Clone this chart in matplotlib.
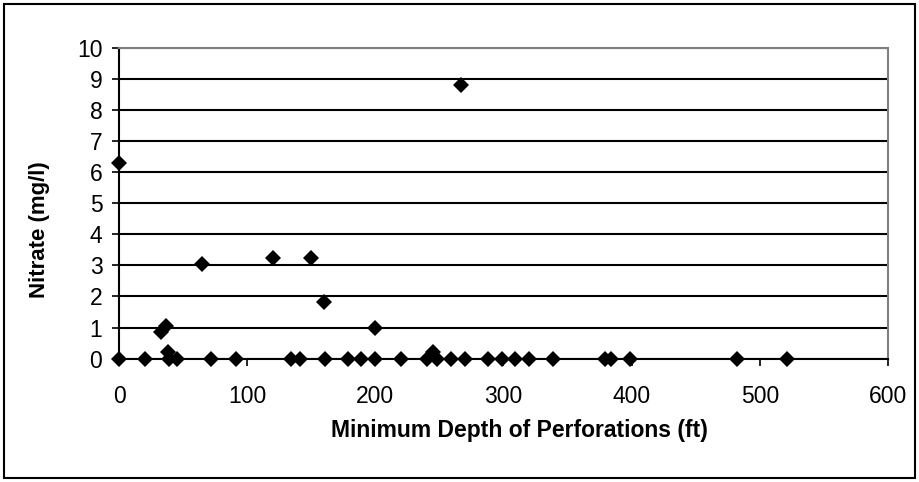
import matplotlib
matplotlib.use("Agg")
import matplotlib.pyplot as plt
from matplotlib.patches import Rectangle

plt.rcParams['font.family'] = ['Liberation Sans', 'DejaVu Sans']

# Wells with detectable nitrate
depth_detect = [0, 33, 37, 38, 65, 120, 150, 160, 200, 245, 267]
nitrate_detect = [6.3, 0.85, 1.05, 0.2, 3.05, 3.25, 3.25, 1.82, 1.0, 0.2, 8.8]

# Wells at the reporting floor (0 mg/l)
depth_zero = [0, 20, 39, 45, 72, 91, 134, 141, 161, 179, 189, 200, 220, 240,
              248, 259, 270, 288, 299, 309, 320, 339, 379, 384, 399, 482, 521]
nitrate_zero = [0.0] * len(depth_zero)

x_ticks = [0, 100, 200, 300, 400, 500, 600]
y_ticks = list(range(0, 11))

fig = plt.figure(figsize=(9.19, 4.82), dpi=100)
ax = fig.add_axes([0.1295, 0.256, 0.8367, 0.6444])

depth = depth_zero + depth_detect
nitrate = nitrate_zero + nitrate_detect
ax.plot(depth, nitrate, linestyle='none', marker='D', markersize=8.6,
        color='black', markeredgewidth=0, clip_on=False, zorder=5)

ax.set_xlim(0, 600)
ax.set_ylim(0, 10)
ax.set_xticks(x_ticks)
ax.set_yticks(y_ticks)
ax.yaxis.grid(True, color='black', linewidth=1.5)
ax.set_axisbelow(True)

for side in ('top', 'right'):
    ax.spines[side].set_color('#808080')
    ax.spines[side].set_linewidth(1.5)
for side in ('left', 'bottom'):
    ax.spines[side].set_color('black')
    ax.spines[side].set_linewidth(1.5)

ax.tick_params(axis='both', direction='out', length=5, width=1.2,
               labelsize=16.5, color='black', pad=7)
ax.tick_params(axis='x', pad=14)

ax.set_xlabel('Minimum Depth of Perforations (ft)', fontsize=16.5,
              fontweight='bold', va='center')
ax.set_ylabel('Nitrate (mg/l)', fontsize=16, fontweight='bold', va='center')
ax.xaxis.set_label_coords(0.521, -0.232)
ax.yaxis.set_label_coords(-0.104, 0.414)

fig.patches.append(Rectangle((4 / 919, 4 / 482), 911 / 919, 474 / 482,
                             transform=fig.transFigure, fill=False,
                             edgecolor='black', linewidth=1.5))

fig.savefig('out.png', dpi=100)
